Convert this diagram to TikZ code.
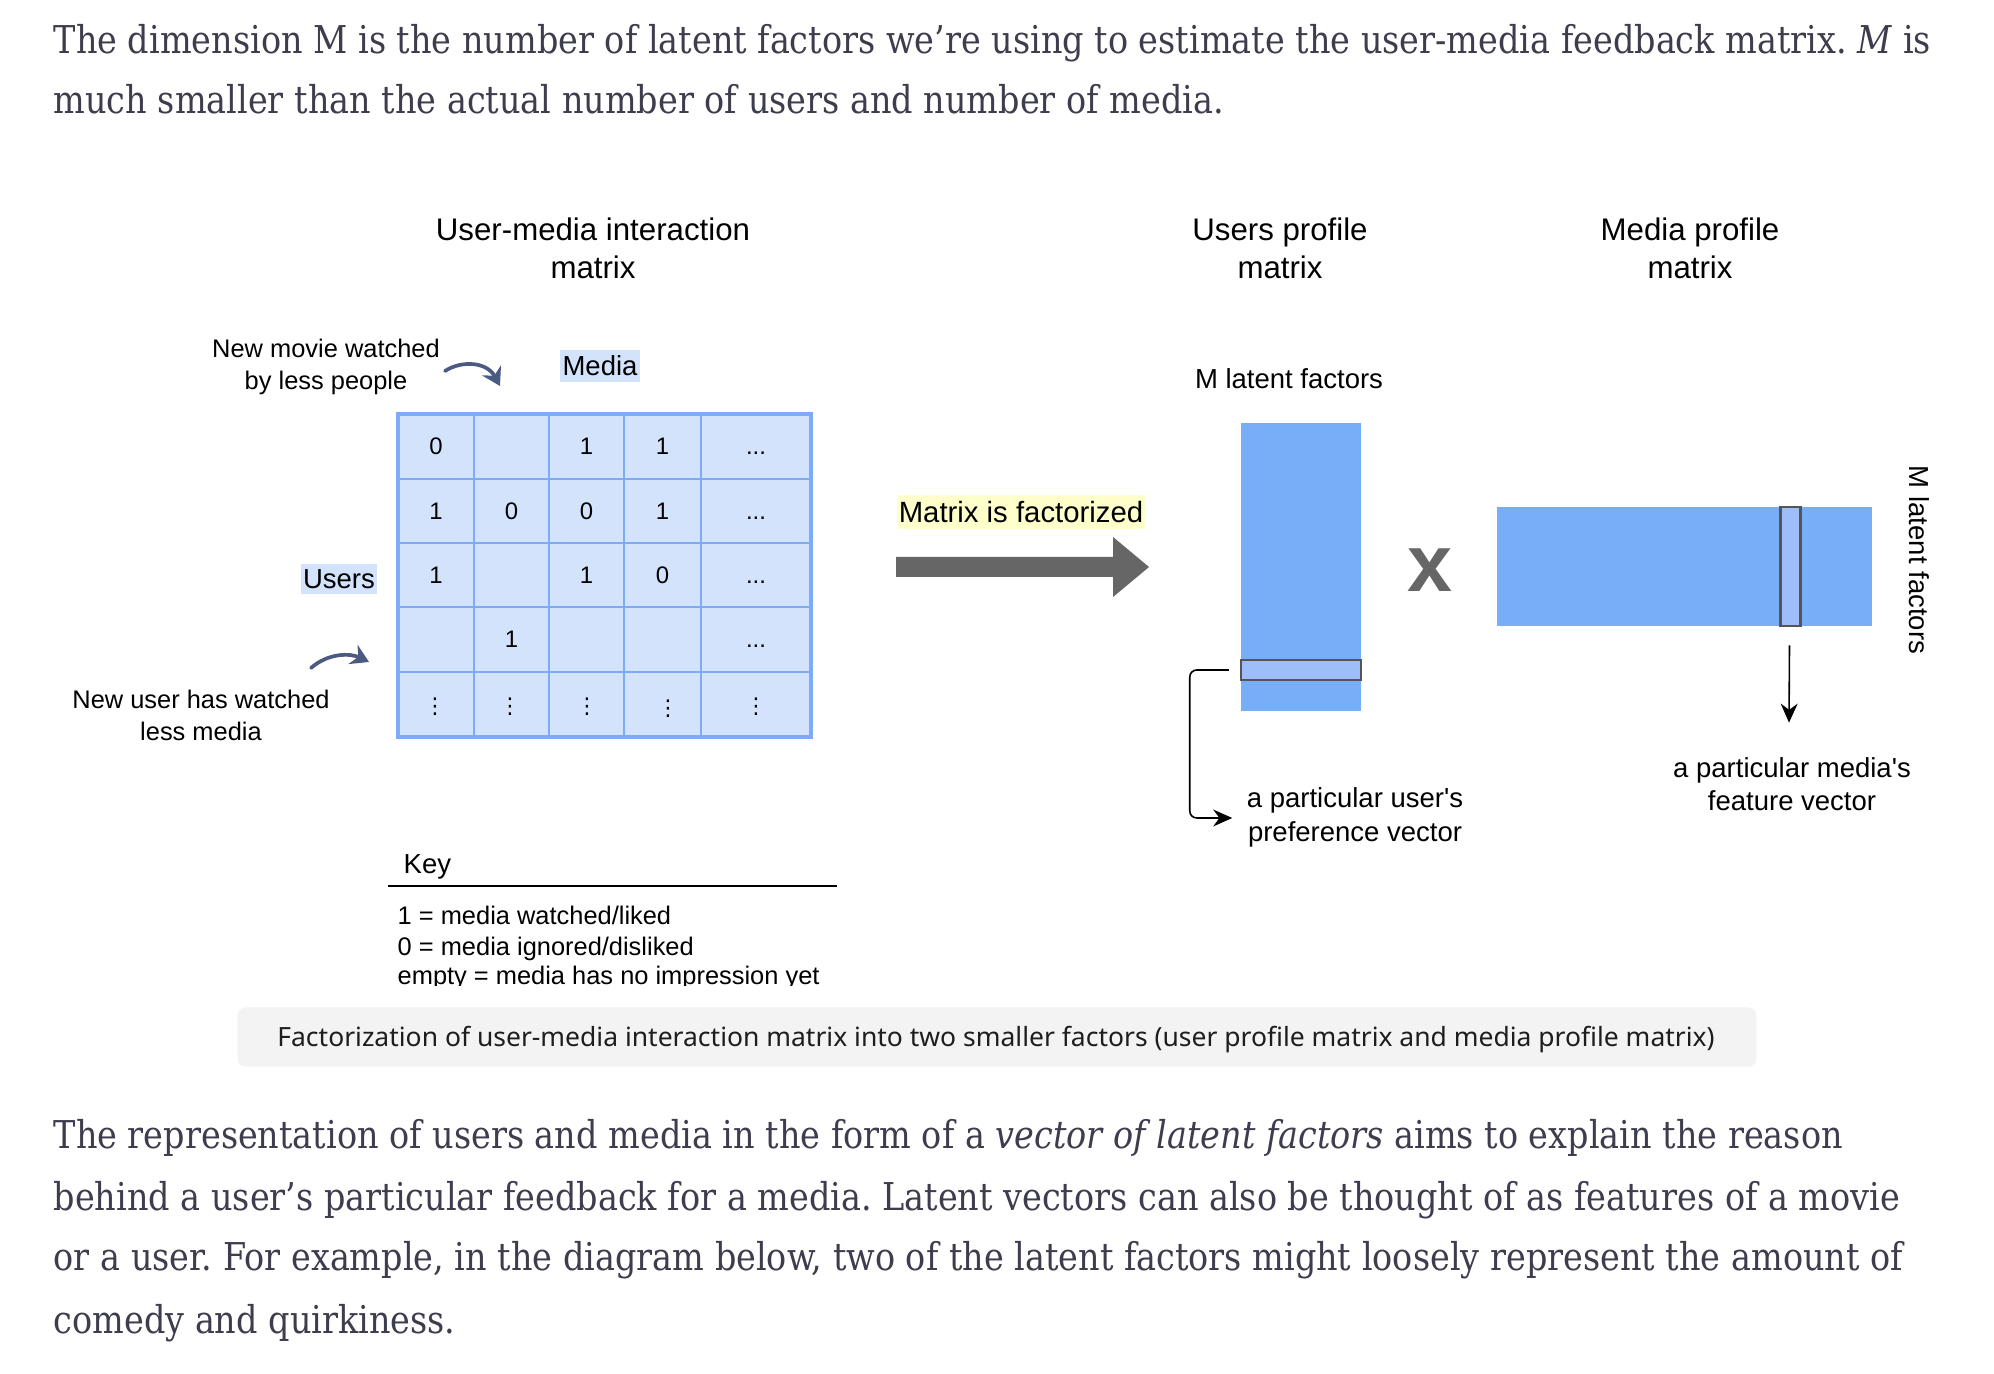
\documentclass[tikz,border=0pt]{standalone}
\usepackage{fontspec}
\setmainfont{Liberation Sans}[Ligatures=TeXOff]
\newfontfamily\bodyfont{DejaVu Serif}[FakeStretch=0.873]
\newfontfamily\capfont{Noto Sans}
\newfontfamily\symfont{DejaVu Sans}
\usetikzlibrary{arrows.meta,calc}
\definecolor{cellfill}{HTML}{D4E3FC}
\definecolor{cellline}{HTML}{7EABF5}
\definecolor{profblue}{HTML}{78AEF8}
\definecolor{hlblue}{HTML}{9DBEF9}
\definecolor{hlline}{HTML}{555555}
\definecolor{bigarrow}{HTML}{666666}
\definecolor{slate}{HTML}{4A5A83}
\definecolor{yellowbg}{HTML}{FFFFCC}
\definecolor{capbg}{HTML}{F3F3F3}
\definecolor{bodytext}{HTML}{3D3D4E}
\definecolor{captext}{HTML}{1E1E1E}
\tikzset{
  bodyline/.style={anchor=base west, inner sep=0, text=bodytext, font=\bodyfont\frenchspacing\fontsize{10.9pt}{13pt}\selectfont},
  titlelbl/.style={align=center, inner sep=0, font=\fontsize{8.88pt}{10.8pt}\selectfont},
  smalllbl/.style={align=center, inner sep=0, font=\fontsize{7.23pt}{9.1pt}\selectfont},
  midlbl/.style={align=center, inner sep=0, font=\fontsize{7.82pt}{9.6pt}\selectfont},
  celltxt/.style={anchor=base, inner sep=0, font=\fontsize{6.8pt}{8pt}\selectfont},
  dotstxt/.style={inner sep=0, font=\symfont\fontsize{6.2pt}{8pt}\selectfont},
  keytxt/.style={anchor=base west, inner sep=0, font=\fontsize{7.23pt}{9pt}\selectfont},
  gridline/.style={draw=cellline, line width=0.6pt},
  curvearrow/.style={draw=slate, line width=1.05pt, line cap=round, -{Stealth[length=5pt,width=6pt]}},
  thinarrow/.style={draw=black, line width=0.45pt, -{Stealth[length=5.4pt,width=4.8pt]}},
  profrect/.style={fill=profblue, inner sep=0, draw=none},
  hlrect/.style={fill=hlblue, draw=hlline, line width=0.7pt, inner sep=0},
}
\begin{document}
\begin{tikzpicture}[x=0.01cm,y=-0.01cm]
\useasboundingbox[fill=white] (0,0) rectangle (1994,1374);

% ---- body text top
\node[bodyline] (p1) at (53,54) {The dimension M is the number of latent factors we’re using to estimate the user-media feedback matrix. \textit{M} is};
\node[bodyline] (p2) at (53,114) {much smaller than the actual number of users and number of media.};

% ---- titles
\node[titlelbl] (t1) at (593,248) {User-media interaction\\matrix};
\node[titlelbl] (t2) at (1280,248) {Users profile\\matrix};
\node[titlelbl] (t3) at (1690,248) {Media profile\\matrix};

% ---- left labels
\node[smalllbl] (newmovie) at (326,367) {New movie watched\\by less people};
\node[smalllbl] (newuser) at (201,715) {New user has watched\\less media};
\node[midlbl, fill=cellfill, inner xsep=0.6pt, inner ysep=1.6pt] (medialbl) at (600,366) {Media};
\node[midlbl, fill=cellfill, inner xsep=0.6pt, inner ysep=1.6pt] (userslbl) at (339,579) {Users};

% curved arrows
\coordinate (ca1s) at (445,371);
\coordinate (ca1e) at (500,386);
\draw[curvearrow] (ca1s) .. controls (462,360) and (487,362) .. (ca1e);
\coordinate (ca2s) at (311,668);
\coordinate (ca2e) at (369,662);
\draw[curvearrow] (ca2s) .. controls (328,653) and (350,653) .. (ca2e);

% ---- matrix
\node[fill=cellfill, inner sep=0, minimum width=4.11cm, minimum height=3.21cm] (mat) at (604.5,575.5) {};
\foreach \x in {474,549,624,701} \draw[gridline] (\x,414) -- (\x,737);
\foreach \y in {479,543,607,672} \draw[gridline] (398,\y) -- (811,\y);
\draw[draw=cellline, line width=1.1pt] (mat.north west) rectangle (mat.south east);

% row 1
\node[celltxt] (c11) at (436,455) {0};
\node[celltxt] (c13) at (586.5,455) {1};
\node[celltxt] (c14) at (662.5,455) {1};
\node[celltxt] (c15) at (756,455) {...};
% row 2
\node[celltxt] (c21) at (436,519.5) {1};
\node[celltxt] (c22) at (511.5,519.5) {0};
\node[celltxt] (c23) at (586.5,519.5) {0};
\node[celltxt] (c24) at (662.5,519.5) {1};
\node[celltxt] (c25) at (756,519.5) {...};
% row 3
\node[celltxt] (c31) at (436,583.5) {1};
\node[celltxt] (c33) at (586.5,583.5) {1};
\node[celltxt] (c34) at (662.5,583.5) {0};
\node[celltxt] (c35) at (756,583.5) {...};
% row 4
\node[celltxt] (c42) at (511.5,648) {1};
\node[celltxt] (c45) at (756,648) {...};
% row 5
\node[dotstxt] (c51) at (435,707) {⋮};
\node[dotstxt] (c52) at (510,707) {⋮};
\node[dotstxt] (c53) at (587,707) {⋮};
\node[dotstxt] (c54) at (668,709) {⋮};
\node[dotstxt] (c55) at (756,707) {⋮};

% ---- key
\begin{scope}
\clip (0,0) rectangle (1994,986);
\node[keytxt, font=\fontsize{7.82pt}{9pt}\selectfont] (keyt) at (403,874) {Key};
\coordinate (keyl) at (388,886);
\coordinate (keyr) at (837,886);
\draw[line width=0.5pt] (keyl) -- (keyr);
\node[keytxt] (k1) at (397,925) {1 = media watched/liked};
\node[keytxt] (k2) at (397,956) {0 = media ignored/disliked};
\node[keytxt] (k3) at (397,985) {empty = media has no impression yet};
\end{scope}

% ---- big arrow
\node[midlbl, font=\fontsize{8.34pt}{10pt}\selectfont, fill=yellowbg, inner xsep=0.5pt, inner ysep=1.8pt] (factlbl) at (1021,512) {Matrix is factorized};
\fill[bigarrow] (896,557) -- (1113,557) -- (1113,537) -- (1149,567) -- (1113,597) -- (1113,577) -- (896,577) -- cycle;

% ---- users profile matrix
\node[midlbl] (mlat) at (1289,379) {M latent factors};
\node[profrect, minimum width=1.2cm, minimum height=2.88cm] (uprof) at (1301,567) {};
\node[hlrect, minimum width=1.2cm, minimum height=0.2cm] (urow) at (1301,670) {};
\node[inner sep=0, text=bigarrow, font=\bfseries\fontsize{23pt}{24pt}\selectfont] (times) at (1430,570) {x};

% ---- media profile matrix
\node[profrect, minimum width=3.75cm, minimum height=1.19cm] (mprof) at (1684.5,566.5) {};
\node[hlrect, minimum width=0.2cm, minimum height=1.19cm] (mcol) at (1790.5,566.5) {};
\node[midlbl, rotate=-90] (mlat2) at (1919,560) {M latent factors};

% ---- annotations
\node[midlbl, font=\fontsize{7.82pt}{9.7pt}\selectfont] (ulbl) at (1355,817) {a particular user's\\preference vector};
\node[midlbl, font=\fontsize{7.82pt}{9.4pt}\selectfont] (mlbl) at (1792,784) {a particular media's\\feature vector};
\draw[thinarrow, rounded corners=2pt] ($(urow.west)+(-11,0)$) -- ++(-39,0) |- ($(ulbl.west)+(-14,1)$);
\draw[thinarrow] ($(mcol.south)+(-1,18)$) -- ($(mlbl.north)+(-3,-34)$);

% ---- caption
\node[fill=capbg, rounded corners=2.3pt, inner sep=0, minimum width=15.18cm, minimum height=0.59cm] (capbox) at (997,1037) {};
\node[inner sep=0, text=captext, font=\capfont\fontsize{7.53pt}{9pt}\selectfont] (cap) at (996,1040) {Factorization of user-media interaction matrix into two smaller factors (user profile matrix and media profile matrix)};

% ---- body text bottom
\node[bodyline] (b1) at (53,1149) {The representation of users and media in the form of a \textit{vector of latent factors} aims to explain the reason};
\node[bodyline] (b2) at (53,1210) {behind a user’s particular feedback for a media. Latent vectors can also be thought of as features of a movie};
\node[bodyline] (b3) at (53,1271) {or a user. For example, in the diagram below, two of the latent factors might loosely represent the amount of};
\node[bodyline] (b4) at (53,1333) {comedy and quirkiness.};
\end{tikzpicture}
\end{document}
